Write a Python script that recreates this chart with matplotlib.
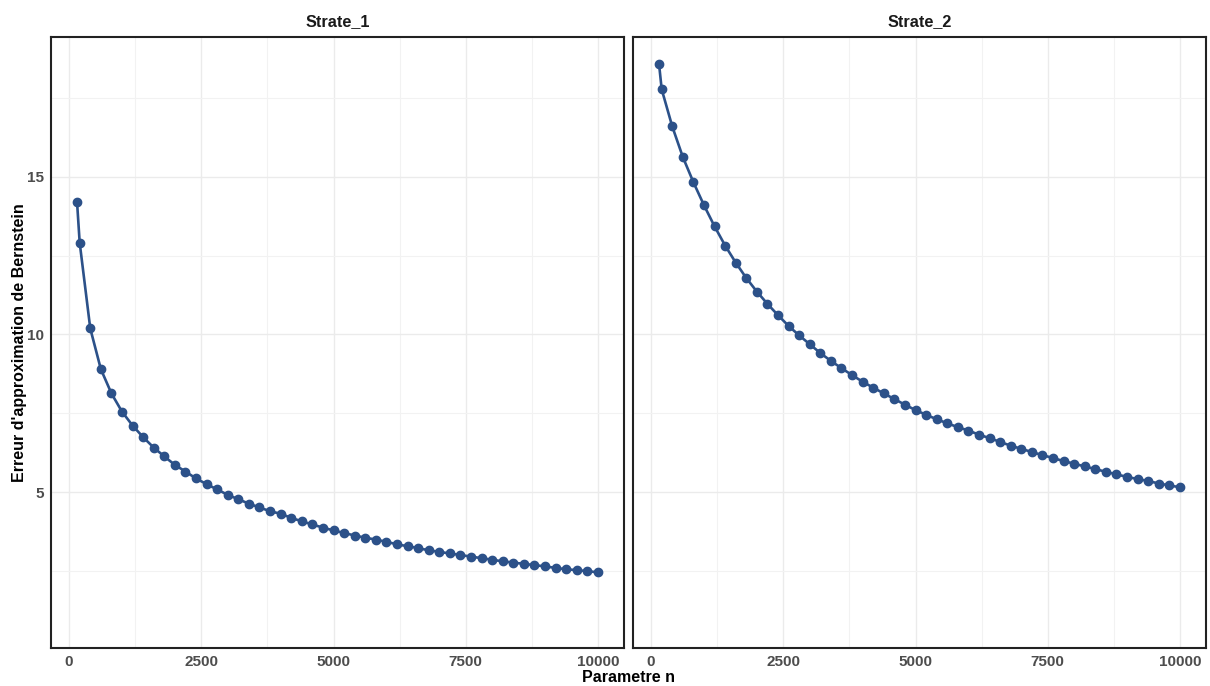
import numpy as np
import matplotlib.pyplot as plt
from matplotlib.ticker import MultipleLocator

n_values = [150] + list(range(200, 10001, 200))

strate_1 = [14.20, 12.91, 10.19, 8.90, 8.13, 7.55, 7.11, 6.74, 6.41, 6.13,
            5.86, 5.65, 5.43, 5.25, 5.08, 4.91, 4.77, 4.63, 4.51, 4.39,
            4.31, 4.18, 4.07, 3.97, 3.87, 3.78, 3.70, 3.62, 3.55, 3.49,
            3.42, 3.34, 3.28, 3.22, 3.15, 3.10, 3.05, 3.00, 2.95, 2.90,
            2.85, 2.80, 2.76, 2.72, 2.68, 2.64, 2.59, 2.55, 2.52, 2.49,
            2.45]

strate_2 = [18.58, 17.78, 16.60, 15.63, 14.83, 14.10, 13.43, 12.82, 12.28, 11.79,
            11.36, 10.97, 10.61, 10.27, 9.97, 9.69, 9.41, 9.16, 8.93, 8.71,
            8.50, 8.31, 8.13, 7.95, 7.77, 7.60, 7.45, 7.31, 7.18, 7.06,
            6.95, 6.82, 6.71, 6.59, 6.47, 6.37, 6.27, 6.17, 6.08, 5.98,
            5.90, 5.81, 5.73, 5.64, 5.56, 5.48, 5.41, 5.35, 5.27, 5.21,
            5.15]

panels = ["Strate_1", "Strate_2"]
series = [strate_1, strate_2]

plt.rcParams['font.family'] = ['Liberation Sans', 'DejaVu Sans']

fig = plt.figure(figsize=(12.1, 6.86), dpi=100)
W, H = 1210, 686
boxes = [(51, 624), (633, 1206)]
top, bottom = 37, 648

color = "#2C5189"
for (x0, x1), name, vals in zip(boxes, panels, series):
    ax = fig.add_axes([x0 / W, 1 - bottom / H, (x1 - x0) / W, (bottom - top) / H])
    ax.plot(n_values, vals, color=color, linewidth=1.9, marker="o",
            markersize=6, zorder=3)
    ax.set_xlim(-342.5, 10492.5)
    ax.set_ylim(0.05, 19.44)
    ax.xaxis.set_major_locator(MultipleLocator(2500))
    ax.xaxis.set_minor_locator(MultipleLocator(1250))
    ax.yaxis.set_major_locator(MultipleLocator(5))
    ax.yaxis.set_minor_locator(MultipleLocator(2.5))
    ax.grid(which="major", color="#EBEBEB", linewidth=1.0)
    ax.grid(which="minor", color="#F2F2F2", linewidth=0.8)
    ax.set_axisbelow(True)
    ax.tick_params(which="both", length=0, labelsize=11, labelcolor="#4D4D4D", pad=5)
    for lab in ax.get_xticklabels() + ax.get_yticklabels():
        lab.set_fontweight("bold")
    for s in ax.spines.values():
        s.set_linewidth(1.5)
        s.set_color("#222222")
    ax.set_title(name, fontsize=11.7, fontweight="bold", color="#1A1A1A", pad=8)
    if name == "Strate_2":
        ax.tick_params(labelleft=False)
    else:
        ax.set_ylabel("Erreur d'approximation de Bernstein", fontsize=11.5,
                      fontweight="bold", labelpad=0)

fig.text(628 / W, 1 - 678 / H, "Parametre n", ha="center", va="center",
         fontsize=11.5, fontweight="bold")

fig.savefig("out.png", dpi=100, facecolor="white")
